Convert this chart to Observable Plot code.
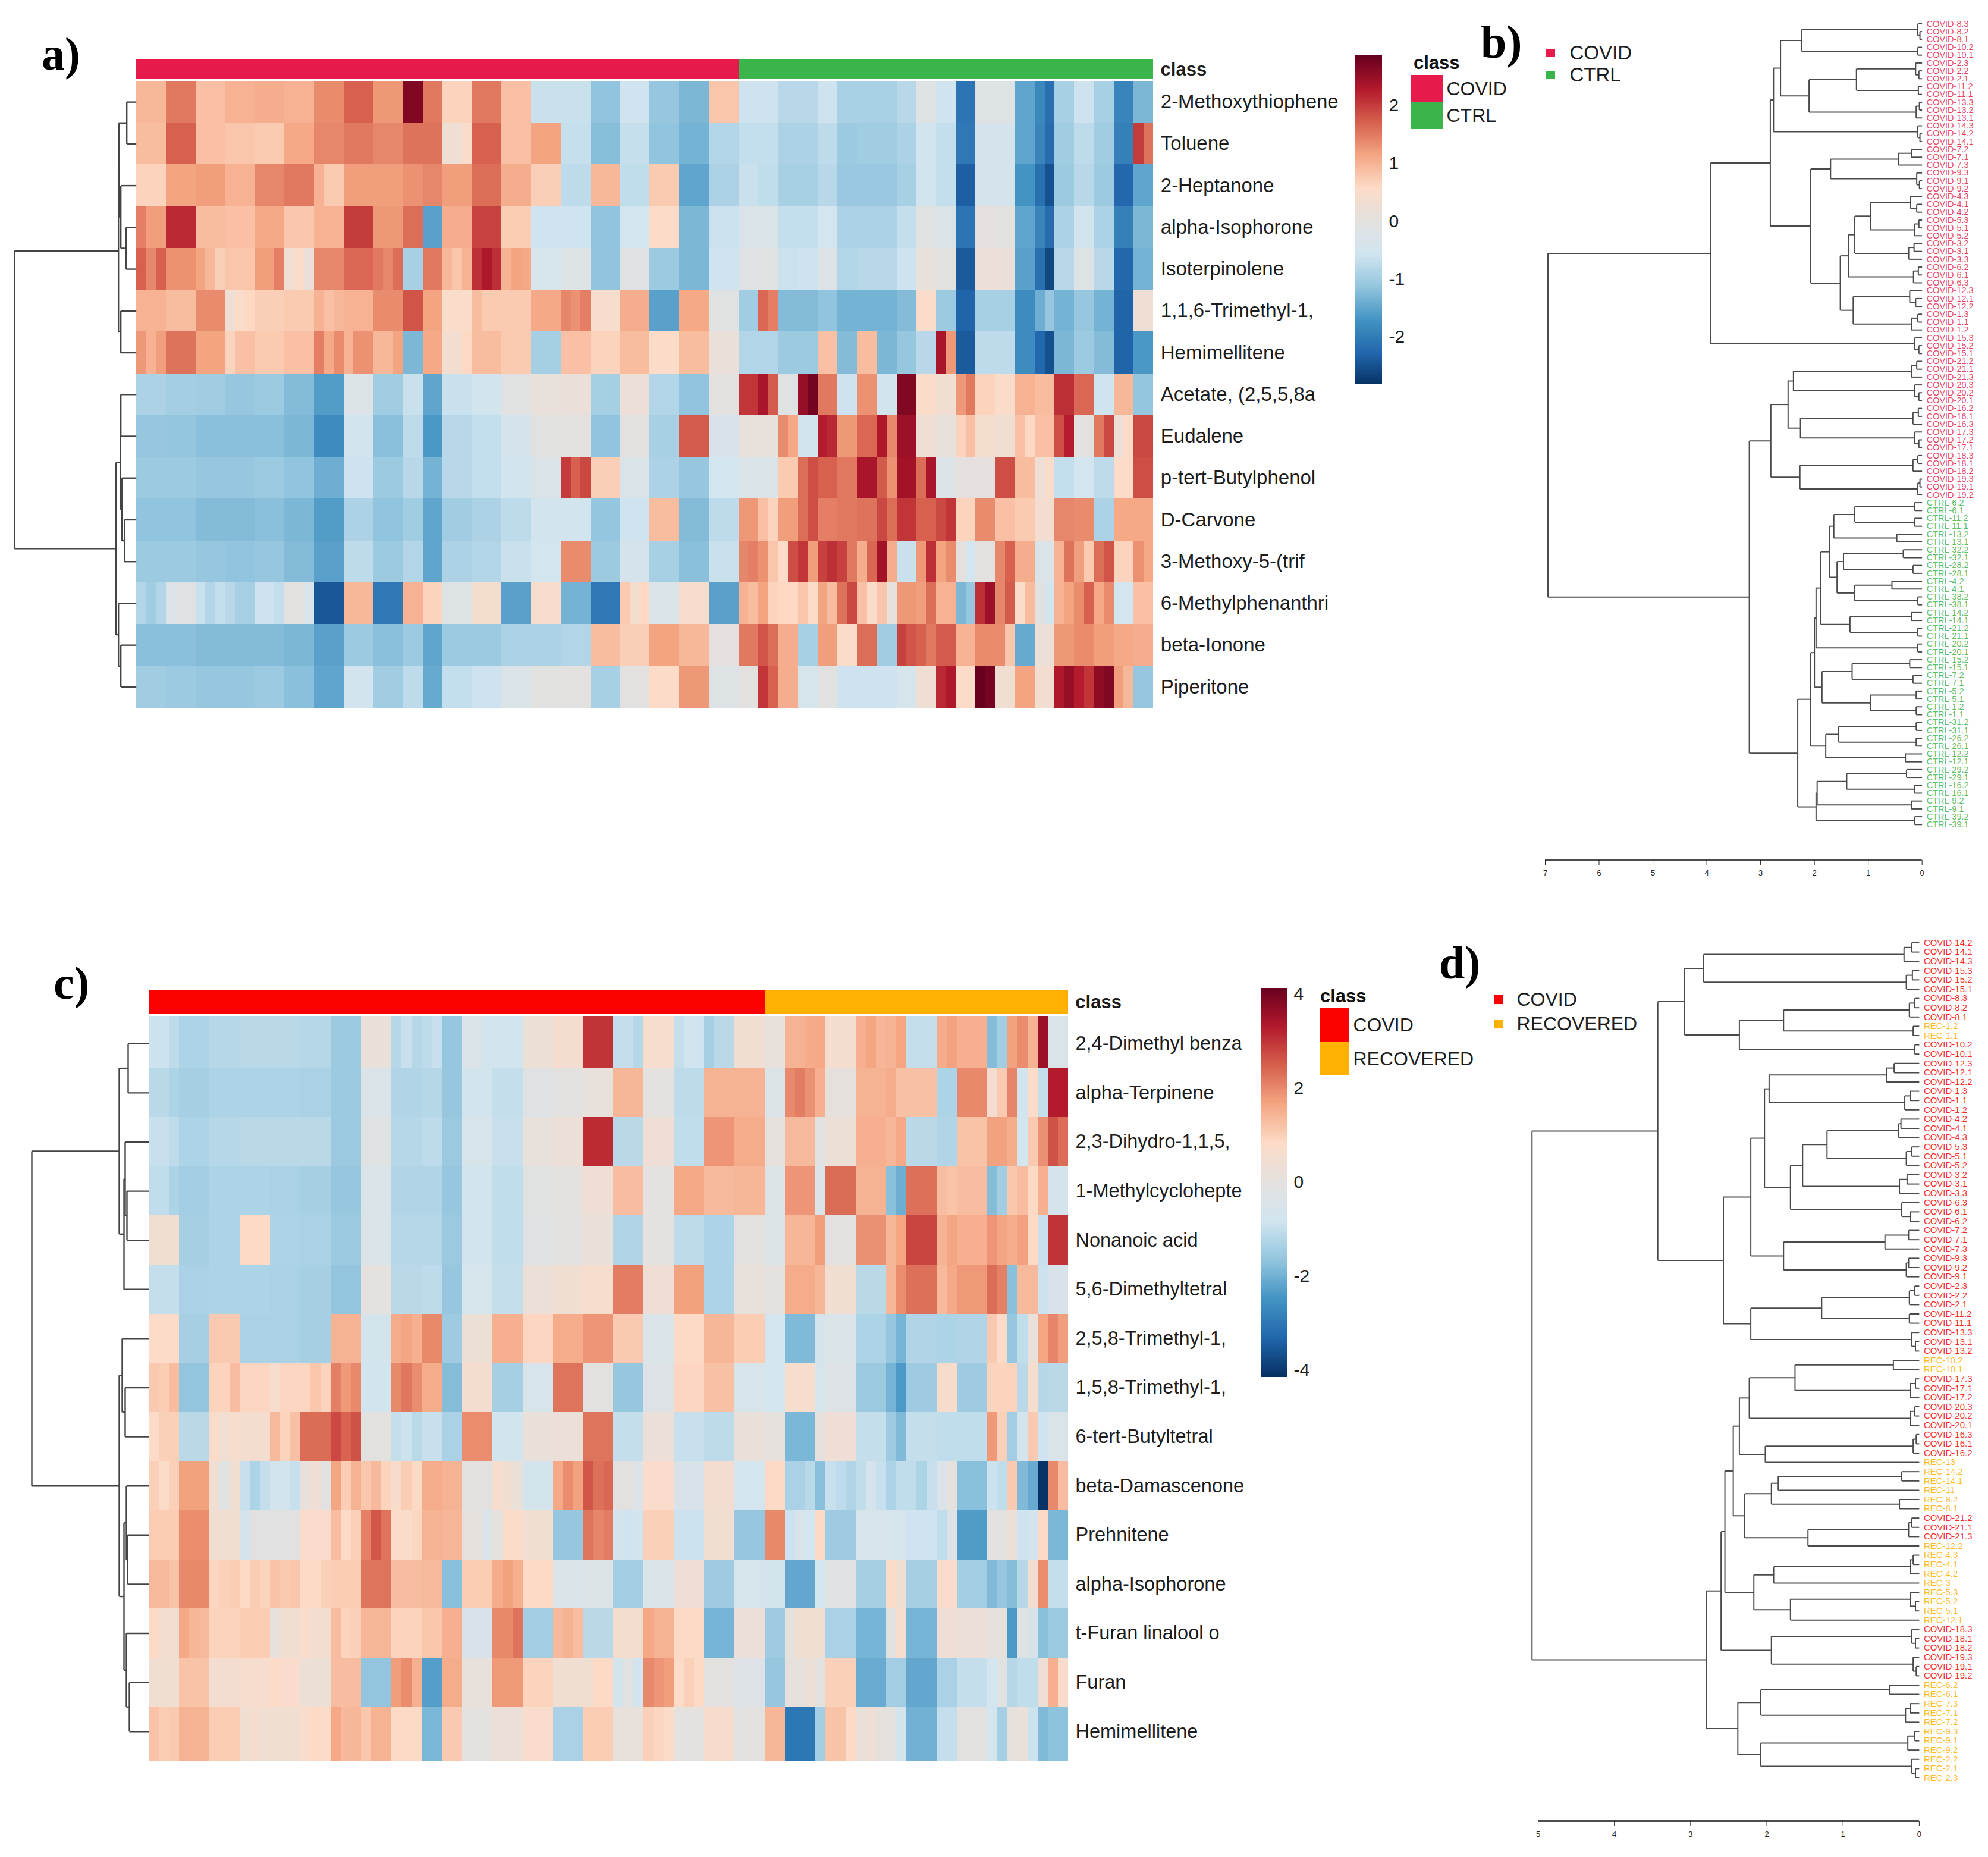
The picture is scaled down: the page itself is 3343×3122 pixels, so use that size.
<!DOCTYPE html>
<html><head><meta charset="utf-8">
<script src="https://cdn.jsdelivr.net/npm/d3@7"></script>
<script src="https://cdn.jsdelivr.net/npm/@observablehq/plot@0.6"></script>
<style>html,body{margin:0;background:#fff}#page{position:relative;width:3343px;height:3122px;overflow:hidden;font-family:"Liberation Sans",Arial,sans-serif}
.abs{position:absolute}.letter{font:bold 78px "Liberation Serif",serif;color:#000;line-height:1}.cls{font:bold 31px "Liberation Sans",sans-serif;color:#111;line-height:1}</style>
</head><body><div id="page"></div>
<script>
const ramp=["#053061","#2166AC","#4393C3","#92C5DE","#D1E5F0","#E3E1DF","#FDDBC7","#F4A582","#D6604D","#B2182B","#67001F"];
const stopsA=[-2.85,-2.28,-1.71,-1.14,-.57,0,.57,1.14,1.71,2.28,2.85];
const stopsC=[-4.15,-3.32,-2.49,-1.66,-.83,0,.83,1.66,2.49,3.32,4.15];

// Panel a
const aClasses=["COVID","CTRL"], aColors=["#E61B4B","#3CB44C"];
const aSpans=[3,3,3,3,3,3,3,3,3,2,2,3,3,3,3,3,3,3,3,3,3, 2,2,2,2,2,2,2,2,2,2,2,2,2,2,2,2,2,2,2,2,2];
const aClassBlocks=[61,42];
const aRows=["2-Methoxythiophene","Toluene","2-Heptanone","alpha-Isophorone","Isoterpinolene","1,1,6-Trimethyl-1,","Hemimellitene","Acetate, (2,5,5,8a","Eudalene","p-tert-Butylphenol","D-Carvone","3-Methoxy-5-(trif","6-Methylphenanthri","beta-Ionone","Piperitone"];
const a01=[.95,1.5,.85,1,1.05,1,1.35,1.7,1.25,2.65,1.5,.65,1.5,.85,-.65,-.65,-1.15,-.58,-1.1,-1.3,.8,-.6,-.6,-.8,-.8,-.6,-.93,-.93,-.93,-.8,-.2,-.58,-2.1,-.2,-.2,-1.5,[-1.85,-2.15],-.95,-.6,-.95,-1.9,-1.3];
const a02=[.9,1.7,.85,.8,.75,1.1,1.4,1.5,1.4,1.55,1.55,[.25,.25,.5],1.7,.85,1.15,-.68,-1.22,-.68,-1.15,-1.35,-.85,-.7,-.7,-.9,-.9,-.75,-1.05,-1,-1,-.9,-.55,-.7,-2.05,-.45,-.45,-1.5,[-1.9,-2.2],-1,-.75,-1,-1.95,[2,1.55]];
const a03=[.65,1.15,1.2,1,1.4,1.5,[1,.75,.75],1.2,1.2,1.3,1.4,1.2,1.6,1.05,.7,-.75,.95,-.72,.75,-1.5,-.9,-.65,-.72,-.95,-.95,-.8,-1.08,-1.08,-1.08,-.95,-.55,-.7,-2.35,-.45,-.45,-1.7,[-2.15,-2.5],-1.05,-.8,-1.05,-2.25,-1.5];
const a04=[[1.45,1.2,1.2],2.15,.9,.85,1.1,.78,1,2,1.25,1.6,-1.55,1.05,1.95,.72,-.58,-.58,-1.15,-.5,.55,-1.3,-.62,-.3,-.3,-.7,-.7,-.5,-.9,-.9,-.9,-.7,-.1,-.3,-2.1,.05,-.05,-1.5,[-1.9,-2.2],-.9,-.55,-.9,-1.95,-1.3];
const a05=[[1.7,1.4,1.7],1.3,[1.15,.95,.7],.8,[1.2,1.2,1.45],[.3,.5,.2],1.4,1.65,[1.5,1.4,1.6],-.95,1.5,[.95,.8,1],[2.1,2.3,2.1],[1,1.15,1.1],-.4,-.2,-1.15,-.15,-1.05,-1.3,-.58,-.15,-.1,-.62,-.6,-.25,-.85,-.8,-.8,-.6,.1,-.05,-2.4,.2,.15,-1.55,[-2.15,-2.6],-.8,-.2,-.8,-2.25,-1.35];
const a06=[1,.9,1.35,[.25,.5,.6],.7,.75,[1,.85,.95],1,1.35,1.8,1.15,.5,[.9,.75,.75],.75,1.1,[1.4,1.3,1.45],.45,1.05,-1.55,1.1,-.1,-1,[1.65,1.45],-1.25,-1.25,-1.15,-1.35,-1.35,-1.35,-1.25,.5,-1.05,-2.3,-.95,-.95,-1.8,[-1.4,-1.1],-1.35,-1.1,-1.35,-2.3,.25];
const a07=[[1.25,1,1.2],1.55,1.15,[.65,.85,.85],.75,.85,[1.45,1.1,1.35],[1,1.3,1.3],[.95,.95,1.15],-1.3,1.1,[.35,.35,.6],.9,.75,-.97,.85,.65,.9,.55,.9,.15,-.85,-.85,-1.05,-1.05,.85,-1.25,.9,-1.3,-1.1,-.8,[2.35,1.25],-2.4,-.75,-.75,-1.8,[-2.25,-2.5],-1.3,-1.05,-1.25,-2.3,-1.65];
const a08=[-.9,-.98,-1,-1.1,-1.05,-1.25,-1.6,-.25,-1,-.65,-1.5,-.65,-.55,-.1,.1,.15,-.97,.2,-.85,-1.15,0,2.05,[2.35,1.75],-.15,[2.5,2.75],1.5,-.6,1.3,-.55,2.65,.5,.3,[1.25,1.5],.65,.5,1,.9,2.1,1.65,-.58,.95,-1.12];
const a09=[-1.1,-1.12,-1.2,-1.2,-1.2,-1.3,-1.8,-.55,-1.2,-.75,-1.65,-.8,-.7,-.45,-.05,0,-1.15,0,-.95,1.75,-.35,.1,.1,[1.35,1.1],-.55,[2.25,2.15],1.25,1.65,[2.3,1.4],2.45,.25,.1,[.65,.85],.4,.3,[.85,.6],.85,[1.85,2.25],0,[1.5,1.9],[.2,.55],1.9];
const a10=[-1.05,-1.05,-1.1,-1.1,-1.05,-1.15,-1.4,-.6,-1.05,-.8,-1.35,-.8,-.7,-.55,-.3,[2,1.7,1.9],.7,-.3,-.9,-1.1,-.5,-.3,-.3,.75,[1.6,1.85],1.7,1.5,2.35,[1.75,1.3],2.4,[1.6,2.35],-.25,.05,.05,1.85,.9,[.25,.5],-.7,-.5,-.75,.55,1.85];
const a11=[-1.15,-1.15,-1.25,-1.25,-1.2,-1.3,-1.6,-.9,-1.15,-1,-1.5,-1,-.9,-.75,-.55,-.55,-1.12,-.58,.9,-1.25,-.75,1.25,[.85,.65],1.2,[1.6,1.85],1.45,1.5,1.55,[1.9,1.6],2.05,1.7,[1.9,2.05],.65,1.35,.85,.75,.35,1.4,1.35,-.9,1.1,1.1];
const a12=[-1.05,-1.05,-1.1,-1.15,-1.1,-1.25,-1.55,-.75,-1.05,-.85,-1.5,-.9,-.85,-.65,-.5,1.35,-1.05,-.45,-.95,-1.2,-.65,[1.4,1.45],[1.3,.8],[.55,1.85],[2.05,1.2],[1.95,2.1],[1.95,1.5],[1.05,1.65],[2.4,1.05],-.65,[1.25,2.1],[1.15,1.35],[.05,-.5],0,[1.4,1.7],1.05,-.3,[1,1.55],[1.2,.75],[1.6,1.8],.65,[1.3,1.1]];
const a13=[[-.85,-1,-.85],[-.3,-.15,-.15],[-.65,-.85,-.7],[-.8,-.95,-.95],[-.6,-.6,-.7],[0,0,-.3],-2.45,.95,-2.05,1,.65,-.2,.4,-1.55,.45,-1.35,-2.05,[.75,.4,.6],-.3,.45,-1.55,[1,.9],[1.15,.65],.6,[.8,.55],[1.15,.9],[1.55,1.9],[.85,.5],[.8,.1],1.25,[1.2,1.6],1,[-1.3,-1.1],[2.1,2.45],[1.4,1.75],[.5,.9],[-.05,-.55],[1,1.15],[1.35,1.7],[1.1,1.35],-.5,.85];
const a14=[-1.2,-1.2,-1.25,-1.25,-1.25,-1.3,-1.55,-1.05,-1.2,-1.05,-1.5,-1.05,-1.05,-.9,-.9,-.85,.9,.7,1.15,.95,.05,1.5,[1.8,1.6],1.05,-.95,1.2,.5,1.6,-1,[1.95,1.8],[1.7,1.5],1.75,1,1.35,[1.35,.8],-1.45,.2,1.25,1.35,1.2,1.1,1.05];
const a15=[-1,-1.05,-1.1,-1.1,-1.05,-1.2,-1.5,-.55,-1,-.75,-1.45,-.7,-.6,-.3,-.05,0,-.95,0,.55,1.25,-.2,0,[2.05,1.7],1.05,-.4,-.05,-.6,-.6,-.6,-.4,.25,[2.15,2.3],.55,[2.85,2.75],.3,1.15,.35,[2.3,2.5],[2.25,2.05],[2.55,2.65],[1.2,.95],-1.1];
const aValues=[a01,a02,a03,a04,a05,a06,a07,a08,a09,a10,a11,a12,a13,a14,a15];
const aRowTree=[205,[30,[29,[16,aRows[0],aRows[1]],[26,aRows[2],[17,aRows[3],aRows[4]]]],[26,aRows[5],aRows[6]]],[34,[27,[26,aRows[7],aRows[8]],[24,aRows[9],[20,aRows[10],aRows[11]]]],[30,aRows[12],[26,aRows[13],aRows[14]]]]];

// Panel c
const cClasses=["COVID","RECOVERED"], cColors=["#FA0000","#FFB000"];
const cSpans=[3,3,3,3,3,3,3,3,3,2,2,3,3,3,3,3,3,3,3,3,3, 2,3,1,3,3,2,3,2,3,2,1,2,1,2];
const cClassBlocks=[61,30];
const cRows=["2,4-Dimethyl benza","alpha-Terpinene","2,3-Dihydro-1,1,5,","1-Methylcyclohepte","Nonanoic acid","5,6-Dimethyltetral","2,5,8-Trimethyl-1,","1,5,8-Trimethyl-1,","6-tert-Butyltetral","beta-Damascenone","Prehnitene","alpha-Isophorone","t-Furan linalool o","Furan","Hemimellitene"];
const c01=[[-.9,-.9,-1.1],-1.3,-1.2,-1.15,-1.15,-1.2,-1.55,.2,[-1.2,-.95,-1.2],[-1.1,-.95],-1.6,[-.45,-.45,-.8],-.8,.3,.55,3,[-1,-1.2],.6,[-1,-.8,-.85],[-1.4,-1.15,-1.15],.45,.15,[1.45,1.45,1.55],1.6,.55,[1.5,1.65,1.4],[1.45,1.65],-1,[1.55,1.7],1.5,[-1.8,-1.45],1.7,[1.95,1.45],3.55,-.4];
const c02=[[-1.15,-1.15,-1.3],-1.4,-1.3,-1.3,-1.3,-1.35,-1.55,-.4,-1.25,-1.2,-1.6,-.8,-1,-.25,0,.15,1.4,.05,-1.1,1.45,1.45,-.35,[2,2.15,1.9],1.5,.1,1.45,[1.55,1.25],1.25,-1.3,2,[.55,1.1],2.05,[-.8,.75],-1,3.3];
const c03=[[-.95,-.95,-1.1],-1.3,-1.2,-1.15,-1.15,-1.15,-1.55,-.2,-1.2,-1.1,-1.55,-.55,-.95,.15,.25,3.1,-1.15,.35,-1.05,1.85,1.55,.1,1.35,-.1,.3,1.5,[1.4,1.6],-1.15,-1.25,1.2,1.7,1.55,[-.75,1.1],1.9,[2.65,2.35]];
const c04=[[-1.05,-1.05,-1.3],-1.45,-1.3,-1.3,-1.35,-1.4,-1.6,-.4,-1.25,-1.25,-1.6,-.8,-1.05,-.15,.05,.35,1.3,.05,1.6,1.35,1.4,-.35,1.85,-.4,2.35,1.45,[-1.75,-2.05],2.3,[1.3,1.2],1.3,[-1.8,-1.45],1.15,[1.3,.85],1.5,-.65];
const c05=[.4,-1.4,-1.3,.85,-1.3,-1.35,-1.55,-.45,-1.2,-1.2,-1.55,-.8,-1.05,-.2,0,.2,-1.25,.05,-1.1,-1.3,0,-.35,1.4,1.75,0,1.9,[1.4,1.65],2.8,[1.45,1.65],1.5,[1.85,1.65],1.55,[1.7,.85],-.95,3];
const c06=[-1,-1.35,-1.3,-1.3,-1.35,-1.4,-1.65,.05,-1.15,-1.1,-1.6,-.6,-1,.25,.4,.6,2.15,.35,1.7,-1.3,.15,.05,1.55,1.4,.4,-1.15,[1.4,1.95],2.3,[1.35,1.6],1.8,[2.35,2.1],-1.75,1.35,-.9,-.5];
const c07=[.8,-1.4,1.1,-1.35,-1.35,-1.4,1.45,-.7,[1.55,1.65,1.5],2,-1.5,.3,1.5,.9,1.55,1.85,1.1,-.4,.85,1.4,1.05,-.75,-1.85,-.65,-.45,-1.3,[-1.6,-1.95],-1.25,-1.3,-1.25,[1.1,.8],-1.6,[-1.05,.2],1.65,[2.05,1.75]];
const c08=[[1.1,1.05,1.3],-1.65,[.95,.95,1.3],.9,[.6,.9,.9],[.9,1.15,.95],[2.1,1.8,2],-.8,[2,2.2,1.95],1.55,-1.8,.55,-1.4,-.55,2.25,0,-1.6,-.3,.9,1.25,-.55,-.75,.6,-.6,-.3,-1.55,[-1.95,-2.4],-1.5,.65,-1.5,.95,.95,[-1.15,.6],-1.2,-1.15];
const c09=[[.8,1,1],-1.15,[.75,.45,.6],.55,[1.35,.95,1.25],2.35,[2.75,2.45,2.65],0,[-1,-.9,-1.15],-.95,-1.35,1.95,-.8,.2,.25,2.25,-1,.25,-.95,-1.1,.2,.1,-1.9,.1,.35,-1,[-1.5,-1.85],-1,-1.05,-1.05,[1.8,1],-1.45,[-.7,1.1],-.85,-.4];
const c10=[[1,.75,1],1.7,[.4,-.15,.4],[-.95,-1.3,-1],[-.8,-.8,-.95],[.15,.35,0],[1.65,1.05,1.45],[1.15,1.35,.95],[.65,1.05,.85],1.55,1.45,0,[.6,.4,.2],-.7,[1.6,1.95,1.7],[2.6,2.3,2.4],[0,-.3],.7,-.5,.5,-.75,.85,[-1.35,-1.15],-1.75,[-.95,-1.1,-1.25],[-1.05,-.65,-.95],[-1.3,-1.05],[-1.05,-1.3,-.95],[-.45,.05],-1.75,[-.9,-1.05],1.1,[-1.85,-2.1],-4.1,[2,1.3]];
const c11=[1.05,1.95,.4,[-.65,-.1,-.1],-.1,.7,[1.3,.85,1],[2.1,2.6,2.25],[.8,.7,.9],1.45,1.4,[.1,.1,-.4],[.1,.75,.75],.45,-1.6,[2.25,2.05,2.15],[-.7,-.85,-.75],1,-.9,.45,-1.6,2,[-.9,-.55,-.75],.85,-1.5,-.55,-.6,-.85,[-1.05,-.3],-2.35,0,.3,[-.85,-.7],.85,-1.9];
const c12=[[1.35,1.35,1.2],2,[.9,1,1.05],[.85,1.05,.95],[1.2,1.1,1.15],[.85,.85,1],1.05,2.25,1.3,1.35,-1.75,1.05,[1.55,1.7,1.5],.85,-.45,-.35,-1.45,-.4,.35,-1.5,-.6,-.7,-2.15,-.75,-.2,-1.4,[.75,.45],-1.4,.7,-1.45,[-1.85,-1.6],-1.8,[-1.2,.5],1.95,-1];
const c13=[[.85,.5,.5],[1.6,1.4,1.35],.95,1.05,[.15,.4,.45],[.7,.5,.5],[1.3,.95,1],1.4,.95,1.15,1.5,-.5,[2,2,2.25],-1.45,[1.35,1.45,1.3],-1.15,.55,[1.6,1.45,1.45],.85,-1.95,.25,-1.5,[.05,.4,.4],.4,-1.35,-1.95,[0,.6],-1.95,.35,.25,.1,-2.4,[-.2,-.5],-1.75,-1.55];
const c14=[.45,1.2,.5,.6,[.8,.7,.7],.3,1.3,-1.65,[1.75,1.95,1.5],-2.3,1.55,.15,1.8,.95,.45,[.45,.85,.85],[-.7,-.1,-.8],[2,1.85,1.75],[.8,1,.85],-.05,-.3,-1.6,[.1,.1,.3],0,1,-2.1,-1.45,-2.15,-1.35,-1,[-.75,-.1],-1.2,-1.05,.35,[1.5,.7]];
const c15=[[1.2,1.05,1.1],1.45,1.05,[.4,.55,.45],.4,[.7,.85,.8],[1.6,1.35,1.4],[1.15,1.45,1.45],.85,-1.9,1.1,.05,.25,.7,-1.35,1.05,.15,[1,.9,.75],.05,.65,[-.1,0,0],1.4,-3,-1.45,[1.2,1.2,.85],[.2,.35,.1],[0,-.7],-2,-1,0,[-.75,-1.4],.1,[.2,-.9],-1.85,-1.7];
const cValues=[c01,c02,c03,c04,c05,c06,c07,c08,c09,c10,c11,c12,c13,c14,c15];
const cRowTree=[197,[50,[35,cRows[0],cRows[1]],[42,[40,cRows[2],[37,cRows[3],cRows[4]]],cRows[5]]],[50,[45,cRows[6],[40,cRows[7],cRows[8]]],[42,[38,cRows[9],[36,cRows[10],cRows[11]]],[38,cRows[12],[33,cRows[13],cRows[14]]]]]];

// Panel b sample tree: [height, children...]
const bTree=[6.95,
 [3.93,
  [2.82,
   [2.76,
    [2.63,
     [2.24,[.08,"COVID-8.3",[.04,"COVID-8.2","COVID-8.1"]],[.08,"COVID-10.2","COVID-10.1"]],
     [2.1,[1.22,[.12,"COVID-2.3",[.06,"COVID-2.2","COVID-2.1"]],[.07,"COVID-11.2","COVID-11.1"]],[.11,[.05,"COVID-13.3","COVID-13.2"],"COVID-13.1"]]],
    [.08,"COVID-14.3",[.04,"COVID-14.2","COVID-14.1"]]],
   [2.07,
    [1.7,[.44,[.2,"COVID-7.2","COVID-7.1"],"COVID-7.3"],[.1,"COVID-9.3",[.05,"COVID-9.1","COVID-9.2"]]],
    [1.52,
     [1.37,
      [1.25,[.96,[.22,"COVID-4.3",[.1,"COVID-4.1","COVID-4.2"]],[.14,[.06,"COVID-5.3","COVID-5.1"],"COVID-5.2"]],[.25,[.15,"COVID-3.2","COVID-3.1"],"COVID-3.3"]],
      [.16,[.07,"COVID-6.2","COVID-6.1"],"COVID-6.3"]],
     [1.28,[.23,"COVID-12.3",[.12,"COVID-12.1","COVID-12.2"]],[.2,[.08,"COVID-1.3","COVID-1.1"],"COVID-1.2"]]]]],
  [.14,"COVID-15.3",[.06,"COVID-15.2","COVID-15.1"]]],
 [3.21,
  [2.81,
   [2.49,
    [2.39,[.2,[.1,"COVID-21.2","COVID-21.1"],"COVID-21.3"],[.14,"COVID-20.3",[.06,"COVID-20.2","COVID-20.1"]]],
    [2.26,[.17,[.07,"COVID-16.2","COVID-16.1"],"COVID-16.3"],[.14,"COVID-17.3",[.06,"COVID-17.2","COVID-17.1"]]]],
   [2.27,[.17,[.08,"COVID-18.3","COVID-18.1"],"COVID-18.2"],[.08,[.04,"COVID-19.3","COVID-19.1"],"COVID-19.2"]]],
  [2.31,
   [2.07,
    [2,
     [1.97,
      [1.88,
       [1.72,
        [1.64,[1.25,[.14,"CTRL-6.2","CTRL-6.1"],[.14,"CTRL-11.2","CTRL-11.1"]],[.47,"CTRL-13.2","CTRL-13.1"]],
        [1.58,[1.46,[.35,"CTRL-32.2","CTRL-32.1"],[.17,"CTRL-28.2","CTRL-28.1"]],[1.25,[.56,"CTRL-4.2","CTRL-4.1"],[.08,"CTRL-38.2","CTRL-38.1"]]]],
       [1.34,[.2,"CTRL-14.2","CTRL-14.1"],[.08,"CTRL-21.2","CTRL-21.1"]]],
      [.08,"CTRL-20.2","CTRL-20.1"]],
     [1.86,[1.3,[.23,"CTRL-15.2","CTRL-15.1"],[.17,"CTRL-7.2","CTRL-7.1"]],[.96,[.11,"CTRL-5.2","CTRL-5.1"],[.11,"CTRL-1.2","CTRL-1.1"]]]],
    [1.79,[1.55,[.11,"CTRL-31.2","CTRL-31.1"],[.11,"CTRL-26.2","CTRL-26.1"]],[.31,"CTRL-12.2","CTRL-12.1"]]],
   [1.97,[1.95,[1.4,[.29,"CTRL-29.2","CTRL-29.1"],[.14,"CTRL-16.2","CTRL-16.1"]],[.2,"CTRL-9.2","CTRL-9.1"]],[.14,"CTRL-39.2","CTRL-39.1"]]]]];

// Panel d sample tree
const dTree=[5.08,
 [3.43,
  [3.08,
   [2.83,[.2,[.1,"COVID-14.2","COVID-14.1"],"COVID-14.3"],[.17,[.09,"COVID-15.3","COVID-15.2"],"COVID-15.1"]],
   [2.36,[1.78,[.13,[.06,"COVID-8.3","COVID-8.2"],"COVID-8.1"],[.08,"REC-1.2","REC-1.1"]],[.06,"COVID-10.2","COVID-10.1"]]],
  [2.57,
   [2.21,
    [2.03,
     [1.97,[.43,[.33,"COVID-12.3","COVID-12.1"],"COVID-12.2"],[.19,[.12,"COVID-1.3","COVID-1.1"],"COVID-1.2"]],
     [1.69,
      [1.53,[1.21,[.27,[.24,"COVID-4.2","COVID-4.1"],"COVID-4.3"],[.17,[.1,"COVID-5.3","COVID-5.1"],"COVID-5.2"]],[.26,[.16,"COVID-3.2","COVID-3.1"],"COVID-3.3"]],
      [.23,"COVID-6.3",[.12,"COVID-6.1","COVID-6.2"]]]],
    [1.78,[.45,[.14,"COVID-7.2","COVID-7.1"],"COVID-7.3"],[.17,[.14,"COVID-9.3","COVID-9.2"],"COVID-9.1"]]],
   [2.21,
    [1.28,[.13,[.06,"COVID-2.3","COVID-2.2"],"COVID-2.1"],[.13,"COVID-11.2","COVID-11.1"]],
    [.1,"COVID-13.3",[.05,"COVID-13.1","COVID-13.2"]]]]],
 [2.79,
  [2.6,
   [2.55,
    [2.44,
     [2.36,
      [2.23,[1.63,[.34,"REC-10.2","REC-10.1"],[.12,[.05,"COVID-17.3","COVID-17.1"],"COVID-17.2"]],[.12,[.06,"COVID-20.3","COVID-20.2"],"COVID-20.1"]],
      [2.02,[.08,[.04,"COVID-16.3","COVID-16.1"],"COVID-16.2"],"REC-13"]],
     [2.29,
      [1.94,[1.85,[.23,"REC-14.2","REC-14.1"],"REC-11"],[.26,"REC-8.2","REC-8.1"]],
      [1.46,[.14,[.1,"COVID-21.2","COVID-21.1"],"COVID-21.3"],"REC-12.2"]]],
    [2.17,
     [1.91,[.12,[.08,"REC-4.3","REC-4.1"],"REC-4.2"],"REC-3"],
     [1.69,[.12,"REC-5.3",[.05,"REC-5.2","REC-5.1"]],"REC-12.1"]]],
   [1.94,[.1,"COVID-18.3",[.05,"COVID-18.1","COVID-18.2"]],[.08,"COVID-19.3",[.04,"COVID-19.1","COVID-19.2"]]]],
  [2.38,
   [2.08,[.39,"REC-6.2","REC-6.1"],[.18,[.12,"REC-7.3","REC-7.1"],"REC-7.2"]],
   [2.08,[.15,[.06,"REC-9.3","REC-9.1"],"REC-9.2"],[.1,"REC-2.2",[.05,"REC-2.1","REC-2.3"]]]]]];

const page=document.getElementById("page");
const FONT='"Liberation Sans",Arial,sans-serif';
function put(el,left,top){el.style.position="absolute";el.style.left=left+"px";el.style.top=top+"px";page.appendChild(el);return el;}
function st(extra){return Object.assign({background:"transparent",maxWidth:"none",fontFamily:FONT,color:"#1c1c1c",overflow:"visible"},extra||{});}
function html(text,cls,left,top){const d=document.createElement("div");d.className=cls+" abs";d.textContent=text;put(d,left,top);}

function flatten(names,values,spans){
  const out=[];
  values.forEach((row,r)=>{
    if(row.length!==spans.length) throw new Error("row "+names[r]+" has "+row.length+" of "+spans.length);
    let c=0;
    row.forEach((e,b)=>{const s=spans[b];
      for(let i=0;i<s;i++){const v=Array.isArray(e)?e[Math.floor(i*e.length/s)]:e;out.push({row:names[r],col:c++,value:v});}
    });
  });
  return out;
}
function layoutTree(tree){
  let i=0;const segs=[],leaves=[];
  (function walk(n){
    if(typeof n==="string"){const y=i++;leaves.push({label:n,y});return {y,h:0};}
    const [h,...kids]=n;const ks=kids.map(walk);
    const y=(ks[0].y+ks[ks.length-1].y)/2;
    segs.push({x1:h,x2:h,y1:ks[0].y,y2:ks[ks.length-1].y});
    ks.forEach(k=>segs.push({x1:k.h,x2:h,y1:k.y,y2:k.y}));
    return {y,h};
  })(tree);
  return {segs,leaves};
}

function heat(o){
  const fine=d3.sum(o.spans),w=o.right-o.left,h=o.bottom-o.top;
  const color={type:"linear",domain:o.stops,range:ramp,clamp:true};
  const xs={type:"band",domain:d3.range(fine),padding:0,round:false,axis:null};
  const cls=[];o.classBlocks.forEach((n,k)=>{for(let i=0;i<n;i++)cls.push({col:cls.length,c:o.classes[k]});});
  const cells=flatten(o.rows,o.values,o.spans);
  // annotation bar
  put(Plot.plot({width:w+200,height:o.annBottom-o.annTop,marginLeft:0,marginRight:200,marginTop:0,marginBottom:0,
    style:st({fontSize:"31px",fontWeight:"bold"}),
    x:xs,
    y:{type:"band",domain:["class"],padding:0,round:false,axis:"right",tickSize:0,tickPadding:12,label:null},
    color:{domain:o.classes,range:o.colors},
    marks:[Plot.cell(cls,{x:"col",y:()=>"class",fill:"c",shapeRendering:"crispEdges"})]}),o.left,o.annTop);
  // first and last rows run a little taller than the others in the reference: strips behind the grid
  function strip(row,top,height){
    put(Plot.plot({width:w,height,marginLeft:0,marginRight:0,marginTop:0,marginBottom:0,style:st(),
      x:xs,
      y:{type:"band",domain:[row],padding:0,round:false,axis:null},
      color,
      marks:[Plot.cell(cells.filter(d=>d.row===row),{x:"col",y:"row",fill:"value",shapeRendering:"crispEdges"})]}),o.left,top);
  }
  if(o.extraTop) strip(o.rows[0],o.extraTop,o.top-o.extraTop+2);
  if(o.extraBottom) strip(o.rows[o.rows.length-1],o.bottom-2,o.extraBottom-o.bottom+2);
  // cells
  put(Plot.plot({width:w+400,height:h,marginLeft:0,marginRight:400,marginTop:0,marginBottom:0,
    style:st({fontSize:o.fs+"px"}),
    x:xs,
    y:{type:"band",domain:o.rows,padding:0,round:false,axis:"right",tickSize:0,tickPadding:12,label:null},
    color,
    marks:[Plot.cell(cells,{x:"col",y:"row",fill:"value",shapeRendering:"crispEdges"})]}),o.left,o.top);
  // row dendrogram
  const t=layoutTree(o.rowTree);
  put(Plot.plot({width:o.left,height:h,marginLeft:0,marginRight:0,marginTop:0,marginBottom:0,style:st(),
    x:{domain:[o.left,0],axis:null},
    y:{domain:[-.5,o.rows.length-.5],reverse:true,axis:null},
    marks:[Plot.link(t.segs,{x1:"x1",x2:"x2",y1:"y1",y2:"y2",stroke:"#444",strokeWidth:2.4})]}),0,o.top);
  // colour bar
  const step=(o.barMax-o.barMin)/220;
  const bands=d3.range(220).map(i=>({y1:o.barMin+i*step,y2:o.barMin+(i+1)*step}));
  put(Plot.plot({width:o.barW+70,height:o.barBottom-o.barTop,marginLeft:0,marginRight:70,marginTop:0,marginBottom:0,
    style:st({fontSize:"30px"}),
    x:{domain:[0,1],axis:null},
    y:{domain:[o.barMin,o.barMax],axis:"right",ticks:o.barTicks,tickSize:0,tickPadding:11,label:null,tickFormat:d=>String(d)},
    color,
    marks:[Plot.rect(bands,{x1:()=>0,x2:()=>1,y1:"y1",y2:"y2",fill:d=>(d.y1+d.y2)/2,shapeRendering:"crispEdges"})]}),o.barLeft,o.barTop);
  // class key
  put(Plot.plot({width:o.keyW,height:o.keyBottom-o.keyTop,marginLeft:0,marginRight:o.keyW-o.keySw,marginTop:0,marginBottom:0,
    style:st({fontSize:"32px"}),
    x:{axis:null},
    y:{type:"band",domain:o.classes,padding:0,round:false,axis:"right",tickSize:0,tickPadding:6,label:null},
    color:{domain:o.classes,range:o.colors},
    marks:[Plot.cell(o.classes,{y:d=>d,fill:d=>d})]}),o.keyLeft,o.keyTop);
  html("class","cls",o.keyLeft+o.keyDx,o.keyTop-36);
}

function treePanel(o){
  const t=layoutTree(o.tree);
  const h=o.axisY-o.svgTop+46;
  const yMax=(o.axisY-o.y0)/o.dy;
  const left=o.x7-40,right=left+ (o.x0-left)+125;
  put(Plot.plot({width:right-left,height:h,marginLeft:40,marginRight:125,marginTop:o.y0-o.svgTop,marginBottom:46,
    style:st({fontSize:"13px",color:"#222"}),
    x:{domain:[o.max,0],axis:"bottom",ticks:o.max+1,tickSize:9,tickPadding:8,label:null,tickFormat:d=>String(d)},
    y:{domain:[0,yMax],reverse:true,axis:null},
    color:{domain:o.classes,range:o.colors},
    marks:[
      Plot.ruleY([yMax],{stroke:"#111",strokeWidth:2.4}),
      Plot.link(t.segs,{x1:"x1",x2:"x2",y1:"y1",y2:"y2",stroke:"#4a4a4a",strokeWidth:2}),
      Plot.text(t.leaves,{x:()=>0,y:"y",text:"label",dx:7.5,textAnchor:"start",fontSize:o.leafFs,fill:d=>o.classOf(d.label),fillOpacity:.85})
    ]}),left,o.svgTop);
  // legend
  put(Plot.plot({width:o.legW,height:o.legH,marginLeft:0,marginRight:o.legW-o.legSq,marginTop:0,marginBottom:0,
    style:st({fontSize:o.legFs+"px"}),
    x:{axis:null},
    y:{type:"band",domain:o.classes,padding:o.legPadY,round:false,axis:"right",tickSize:0,tickPadding:o.legPad,label:null},
    color:{domain:o.classes,range:o.colors},
    marks:[Plot.cell(o.classes,{y:d=>d,fill:d=>d})]}),o.legX,o.legY);
}

heat({left:228.7,right:1939,top:136.4,bottom:1190,annTop:99.6,annBottom:132.5,fs:33,
  spans:aSpans,classBlocks:aClassBlocks,classes:aClasses,colors:aColors,rows:aRows,values:aValues,rowTree:aRowTree,stops:stopsA,
  barLeft:2279,barW:45,barTop:92,barBottom:646,barMin:-2.82,barMax:2.87,barTicks:[-2,-1,0,1,2],
  keyLeft:2373,keyTop:126,keyBottom:217,keyW:300,keySw:53,keyDx:4});
heat({left:250,right:1796,top:1713,bottom:2952,extraTop:1708,extraBottom:2961,annTop:1665.3,annBottom:1704.7,fs:32.5,
  spans:cSpans,classBlocks:cClassBlocks,classes:cClasses,colors:cColors,rows:cRows,values:cValues,rowTree:cRowTree,stops:stopsC,
  barLeft:2121,barW:43,barTop:1661,barBottom:2315,barMin:-4.15,barMax:4.13,barTicks:[-4,-2,0,2,4],
  keyLeft:2220,keyTop:1695,keyBottom:1808,keyW:260,keySw:49,keyDx:0});

treePanel({tree:bTree,max:7,x7:2598,x0:3231.7,y0:39.4,dy:13.2,axisY:1445,svgTop:0,leafFs:14.5,
  classes:aClasses,colors:aColors,classOf:s=>s.startsWith("COVID")?"COVID":"CTRL",
  legX:2599,legY:59,legW:260,legH:97,legSq:16,legFs:33,legPad:24,legPadY:.62});
treePanel({tree:dTree,max:5,x7:2586,x0:3226.9,y0:1584.5,dy:15.6,axisY:3061,svgTop:1500,leafFs:15,
  classes:cClasses,colors:cColors,classOf:s=>s.startsWith("COVID")?"COVID":"RECOVERED",
  legX:2513,legY:1647,legW:340,legH:108,legSq:15,legFs:32,legPad:22,legPadY:.63});

html("a)","letter",70,52);
html("b)","letter",2490,32);
html("c)","letter",90,1614);
html("d)","letter",2420,1580);
</script></body></html>
